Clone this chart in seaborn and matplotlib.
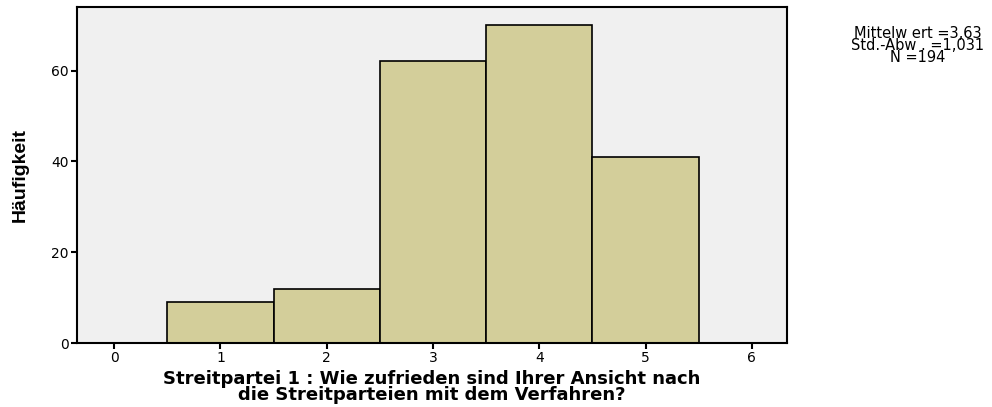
import seaborn as sns
import pandas as pd
import numpy as np
import matplotlib.pyplot as plt

# Antwortkategorien und Häufigkeiten
werte = [1, 2, 3, 4, 5]
haeufigkeit = [9, 12, 62, 70, 41]
x_ticks = [0, 1, 2, 3, 4, 5, 6]
y_ticks = [0, 20, 40, 60]

df = pd.DataFrame({'wert': werte, 'n': haeufigkeit})

sns.set_style("white")
plt.rcParams['font.family'] = ['DejaVu Sans']
plt.rcParams['text.color'] = 'black'
plt.rcParams['axes.labelcolor'] = 'black'

fig = plt.figure(figsize=(9.92, 4.07), dpi=100)
ax = fig.add_axes([0.0776, 0.157, 0.7157, 0.826])
ax.set_facecolor('#f0f0f0')

sns.histplot(data=df, x='wert', weights='n', discrete=True, ax=ax,
             color='#d3ce9a', alpha=1, edgecolor='black', linewidth=1.2)

ax.set_xlim(-0.35, 6.33)
ax.set_ylim(0, 74)
ax.set_xticks(x_ticks)
ax.set_yticks(y_ticks)
ax.tick_params(axis='both', direction='out', length=4, width=1.5, pad=2,
               labelsize=10, color='black', labelcolor='black',
               bottom=True, left=True)
for s in ax.spines.values():
    s.set_linewidth(1.5)
    s.set_color('black')

ax.set_ylabel('Häufigkeit', fontsize=14, fontweight='bold',
              family=['DejaVu Sans Condensed', 'Liberation Sans Narrow', 'Liberation Sans'],
              labelpad=16)
ax.set_xlabel('Streitpartei 1 : Wie zufrieden sind Ihrer Ansicht nach\n'
              'die Streitparteien mit dem Verfahren?',
              fontsize=13, fontweight='bold', linespacing=0.85, labelpad=3)

fig.text(0.925, 0.935, 'Mittelw ert =3,63\nStd.-Abw . =1,031\nN =194',
         ha='center', va='top', fontsize=10.5, linespacing=0.72)

fig.savefig('out.png', dpi=100)
